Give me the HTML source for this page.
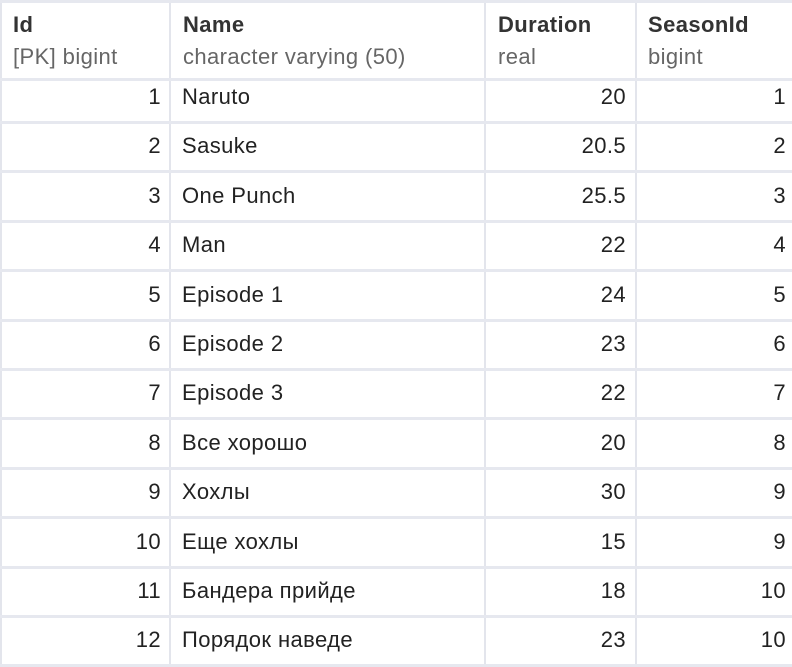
<!DOCTYPE html>
<html><head><meta charset="utf-8"><style>
body{margin:0;width:792px;height:666px;overflow:hidden;background:#fff;font-family:"Liberation Sans",sans-serif;color:#222}
.g{position:absolute;left:0;top:0;width:792px;height:666px}
.vl{position:absolute;top:0;width:2px;height:666px;background:#e3e5ec}
.hl{position:absolute;left:0;width:792px;height:3px;background:#e6e8ef}
.c{position:absolute;font-size:22px;line-height:26px;white-space:nowrap;letter-spacing:0.4px}
.h{font-weight:bold;color:#333}
.s{color:#666}
.r{text-align:right}
</style></head><body>
<div class="g" id="g">
<div style="position:absolute;left:0;top:0;width:112px;height:2px;background:#c8d6ee"></div>
<div class="vl" style="left:0"></div>
<div class="vl" style="left:169px"></div>
<div class="vl" style="left:484px"></div>
<div class="vl" style="left:635px"></div>
<div class="hl" style="top:0"></div>
<div class="hl" style="top:78px"></div>
<div class="c h" style="left:13px;top:12px">Id</div>
<div class="c s" style="left:13px;top:44px">[PK] bigint</div>
<div class="c h" style="left:183px;top:12px">Name</div>
<div class="c s" style="left:183px;top:44px">character varying (50)</div>
<div class="c h" style="left:498px;top:12px">Duration</div>
<div class="c s" style="left:498px;top:44px">real</div>
<div class="c h" style="left:648px;top:12px">SeasonId</div>
<div class="c s" style="left:648px;top:44px">bigint</div>
</div>
<script>
const ids=[1,2,3,4,5,6,7,8,9,10,11,12];
const names=["Naruto","Sasuke","One Punch","Man","Episode 1","Episode 2","Episode 3","Все хорошо","Хохлы","Еще хохлы","Бандера прийде","Порядок наведе"];
const durations=["20","20.5","25.5","22","24","23","22","20","30","15","18","23"];
const seasons=[1,2,3,4,5,6,7,8,9,9,10,10];
const g=document.getElementById('g');
function cell(txt,left,width,top,right,name){
 const d=document.createElement('div');
 d.className='c'+(right?' r':'');
 d.style.left=left+'px';d.style.top=top+'px';if(width)d.style.width=width+'px';
 d.textContent=txt;
 
 
 g.appendChild(d);
}
for(let i=0;i<ids.length;i++){
 const cy=97+i*49.4;
 const top=cy-13;
 const ln=document.createElement('div');
 ln.className='hl';ln.style.top=(cy+24)+'px';
 
 
 g.appendChild(ln);
 cell(String(ids[i]),0,161,top,true,'id-cell');
 cell(names[i],182,0,top,false,'name-cell');
 cell(durations[i],487,139,top,true,'duration-cell');
 cell(String(seasons[i]),638,148,top,true,'seasonid-cell');
}
</script>
</body></html>
